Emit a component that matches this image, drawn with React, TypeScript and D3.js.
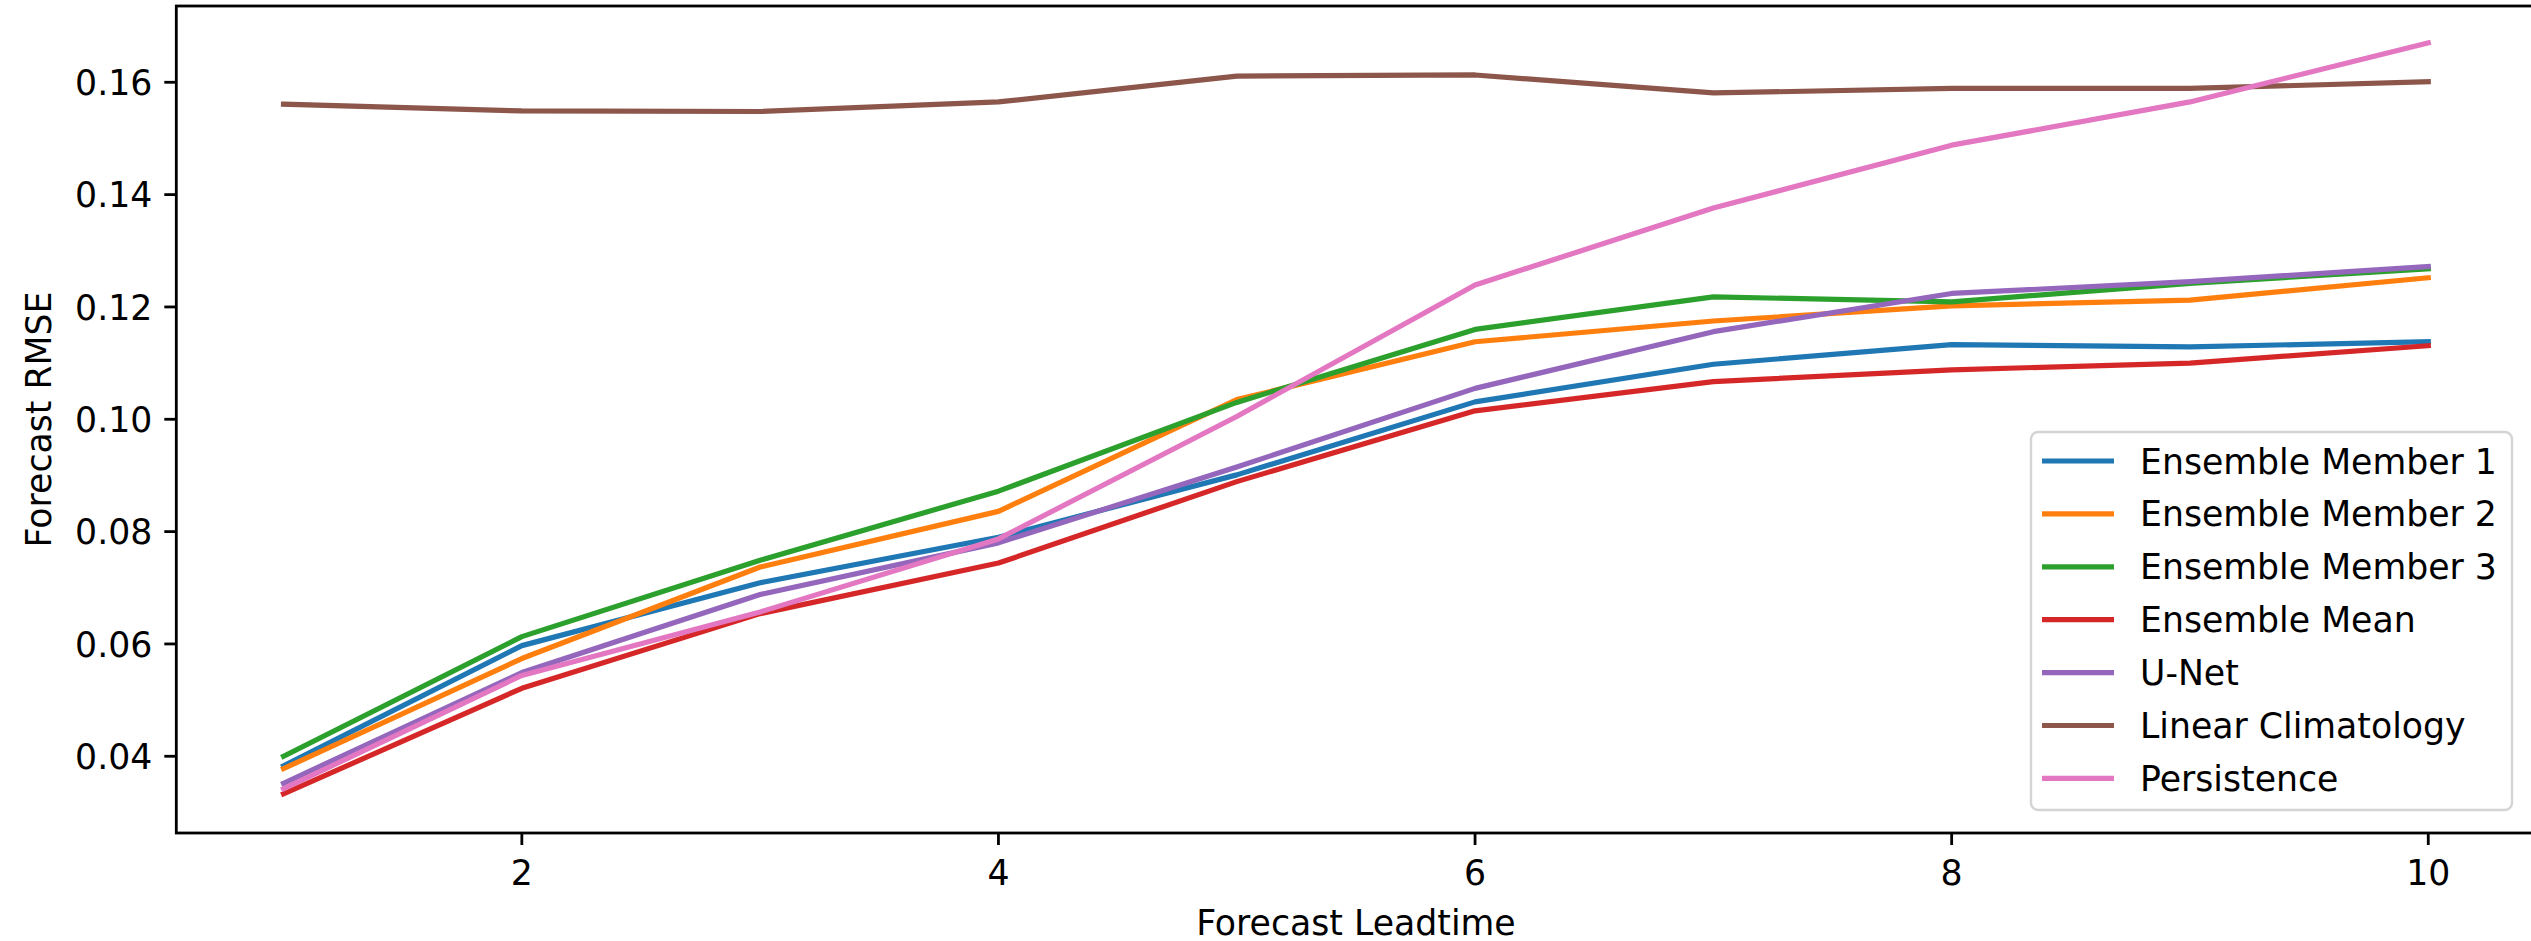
import React from "react";
import * as d3 from "d3";

const leadtimes = [1, 2, 3, 4, 5, 6, 7, 8, 9, 10];
const member1 = [0.0383, 0.0597, 0.0709, 0.079, 0.0901, 0.1031, 0.1098, 0.1133, 0.1129, 0.1138];
const member2 = [0.0378, 0.0574, 0.0737, 0.0836, 0.1035, 0.1138, 0.1175, 0.1202, 0.1212, 0.1252];
const member3 = [0.04, 0.0613, 0.0749, 0.0872, 0.103, 0.116, 0.1218, 0.1209, 0.1242, 0.1268];
const ensembleMean = [0.0333, 0.0521, 0.0654, 0.0744, 0.0889, 0.1015, 0.1067, 0.1088, 0.11, 0.1131];
const unet = [0.0352, 0.0549, 0.0688, 0.078, 0.0915, 0.1055, 0.1156, 0.1224, 0.1245, 0.1272];
const climatology = [0.1561, 0.1549, 0.1548, 0.1565, 0.1611, 0.1613, 0.1581, 0.1589, 0.1589, 0.1601];
const persistence = [0.0342, 0.0544, 0.0657, 0.0787, 0.1005, 0.1239, 0.1376, 0.1488, 0.1565, 0.167];

const seriesNames = [
  "Ensemble Member 1",
  "Ensemble Member 2",
  "Ensemble Member 3",
  "Ensemble Mean",
  "U-Net",
  "Linear Climatology",
  "Persistence",
];
const seriesValues = [member1, member2, member3, ensembleMean, unet, climatology, persistence];
const seriesColors = ["#1f77b4", "#ff7f0e", "#2ca02c", "#d62728", "#9467bd", "#8c564b", "#e377c2"];

const xTicks = [2, 4, 6, 8, 10];
const yTicks = [0.04, 0.06, 0.08, 0.1, 0.12, 0.14, 0.16];
const yTickLabels = ["0.04", "0.06", "0.08", "0.10", "0.12", "0.14", "0.16"];

const W = 2531;
const H = 941;
const FONT = "'DejaVu Sans', Verdana, sans-serif";
const FS = 34.7;

export default function App() {
  const left = 176.3;
  const right = 2535.5;
  const top = 6;
  const bottom = 833;

  const x = d3.scaleLinear().domain([0.55, 10.45]).range([left, right]);
  const y = d3.scaleLinear().domain([0.02634, 0.17358]).range([bottom, top]);

  const line = d3
    .line<number>()
    .x((_, i) => x(leadtimes[i]))
    .y((d) => y(d));

  const tickLen = 12;
  const spineW = 2.8;

  const legX = 2031;
  const legY = 432;
  const legW = 481;
  const legH = 378;
  const rowY0 = 461;
  const rowStep = 52.9;

  return (
    <svg
      width={W}
      height={H}
      style={{ position: "absolute", left: 0, top: 0, display: "block", background: "#fff" }}
    >
      <rect x={0} y={0} width={W} height={H} fill="#fff" />
      <defs>
        <clipPath id="plotclip">
          <rect x={left} y={top} width={right - left} height={bottom - top} />
        </clipPath>
      </defs>

      <g clipPath="url(#plotclip)">
        {seriesValues.map((vals, k) => (
          <path
            key={seriesNames[k]}
            d={line(vals) || ""}
            fill="none"
            stroke={seriesColors[k]}
            strokeWidth={5.2}
            strokeLinejoin="round"
            strokeLinecap="square"
          />
        ))}
      </g>

      {/* spines */}
      <rect
        x={left}
        y={top}
        width={right - left}
        height={bottom - top}
        fill="none"
        stroke="#000"
        strokeWidth={spineW}
      />

      {/* x ticks */}
      {xTicks.map((t) => (
        <g key={"xt" + t}>
          <line x1={x(t)} x2={x(t)} y1={bottom} y2={bottom + tickLen} stroke="#000" strokeWidth={spineW} />
          <text
            x={x(t)}
            y={885}
            textAnchor="middle"
            fontFamily={FONT}
            fontSize={FS}
            fill="#000"
          >
            {t}
          </text>
        </g>
      ))}

      {/* y ticks */}
      {yTicks.map((t, i) => (
        <g key={"yt" + t}>
          <line x1={left - tickLen} x2={left} y1={y(t)} y2={y(t)} stroke="#000" strokeWidth={spineW} />
          <text
            x={left - 24}
            y={y(t) + 12.8}
            textAnchor="end"
            fontFamily={FONT}
            fontSize={FS}
            fill="#000"
          >
            {yTickLabels[i]}
          </text>
        </g>
      ))}

      {/* axis labels */}
      <text
        x={(left + right) / 2}
        y={935}
        textAnchor="middle"
        fontFamily={FONT}
        fontSize={FS}
        fill="#000"
      >
        Forecast Leadtime
      </text>
      <text
        transform={`translate(51, ${(top + bottom) / 2}) rotate(-90)`}
        textAnchor="middle"
        fontFamily={FONT}
        fontSize={FS}
        fill="#000"
      >
        Forecast RMSE
      </text>

      {/* legend */}
      <rect
        x={legX}
        y={legY}
        width={legW}
        height={legH}
        rx={7}
        ry={7}
        fill="#fff"
        fillOpacity={0.8}
        stroke="#d4d4d4"
        strokeWidth={2.4}
      />
      {seriesNames.map((name, k) => {
        const ry = rowY0 + k * rowStep;
        return (
          <g key={"leg" + name}>
            <line
              x1={2042}
              x2={2114}
              y1={ry}
              y2={ry}
              stroke={seriesColors[k]}
              strokeWidth={5.2}
              strokeLinecap="butt"
            />
            <text x={2140} y={ry + 12.5} fontFamily={FONT} fontSize={FS} fill="#000">
              {name}
            </text>
          </g>
        );
      })}
    </svg>
  );
}
